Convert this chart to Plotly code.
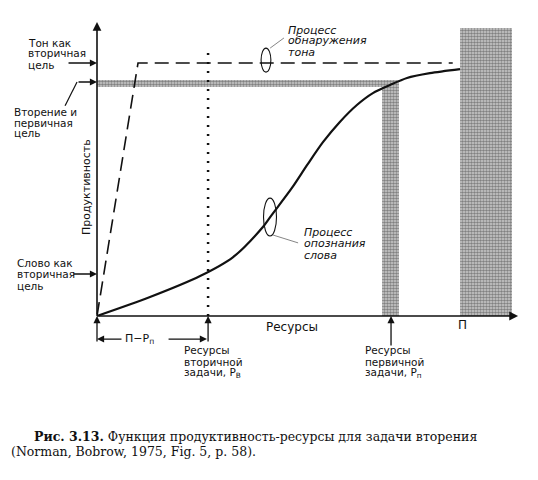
import plotly.graph_objects as go

# ---- data (resource units: 0 = none, 1 = П total; performance: 1 = tone target) ----
curve_x = [0.0, 0.146, 0.284, 0.375, 0.457, 0.477, 0.537, 0.579, 0.623, 0.669, 0.716, 0.760, 0.807, 0.854, 0.917, 1.0]
curve_y = [0.0, 0.075, 0.158, 0.233, 0.352, 0.391, 0.506, 0.597, 0.688, 0.767, 0.834, 0.881, 0.913, 0.941, 0.960, 0.976]

tone_x = [0.0, 0.113, 0.98]
tone_y = [0.0, 1.0, 1.0]

secondary_resources = 0.306   # Pв
primary_resources = 0.81      # Pп
total_resources = 1.0         # П
dotted_top = 1.063

tone_target = 1.0
dual_target = 0.925
word_target = 0.166

bar_x0 = [0.785, 1.0]
bar_x1 = [0.831, 1.143]
bar_top = [0.933, 1.138]
band_y0, band_y1, band_x1 = 0.905, 0.933, 0.831

y_axis_top = 1.162
x_axis_end = 1.16

left_labels = [
    (["Тон как", "вторичная", "цель"], -0.1956, [1.079, 1.040, 0.992]),
    (["Вторение и", "первичная", "цель"], -0.234, [0.806, 0.763, 0.723]),
    (["Слово как", "вторичная", "цель"], -0.226, [0.2095, 0.166, 0.1186]),
]
proc_labels = [
    (["Процесс", "обнаружения", "тона"], 0.5207, [1.1304, 1.087, 1.0435]),
    (["Процесс", "опознания", "слова"], 0.5647, [0.332, 0.2885, 0.241]),
]
bottom_labels = [
    (["Ресурсы", "вторичной", "задачи, P<sub>В</sub>"], 0.234, [-0.134, -0.181, -0.226]),
    (["Ресурсы", "первичной", "задачи, P<sub>п</sub>"], 0.733, [-0.134, -0.181, -0.226]),
]
caption1 = "<b>Рис. 3.13.</b> Функция продуктивность-ресурсы для задачи вторения"
caption2 = "(Norman, Bobrow, 1975, Fig. 5, p. 58)."

SANS = "DejaVu Sans"
INK = "#111111"

fig = go.Figure()

pattern = dict(shape=".", size=3, solidity=0.6, fgcolor="#333333", bgcolor="#cfcfcf")

# vertical grey bars
fig.add_trace(go.Bar(
    x=[(a + b) / 2 for a, b in zip(bar_x0, bar_x1)],
    y=bar_top, base=[0, 0],
    width=[b - a for a, b in zip(bar_x0, bar_x1)],
    marker=dict(color="#999999", pattern=pattern, line=dict(width=0)),
    showlegend=False, hoverinfo="skip"))
# horizontal grey band
fig.add_trace(go.Bar(
    y=[(band_y0 + band_y1) / 2], x=[band_x1], base=[0],
    width=[band_y1 - band_y0], orientation="h",
    marker=dict(color="#999999", pattern=pattern, line=dict(width=0)),
    showlegend=False, hoverinfo="skip"))

# dotted line at secondary resources
fig.add_trace(go.Scatter(x=[secondary_resources, secondary_resources], y=[0, dotted_top],
                         mode="lines", line=dict(color=INK, width=2.5, dash="2px,7px"),
                         showlegend=False, hoverinfo="skip"))
# tone detection process (dashed)
fig.add_trace(go.Scatter(x=tone_x, y=tone_y, mode="lines",
                         line=dict(color=INK, width=1.6, dash="14px,7px"),
                         showlegend=False, hoverinfo="skip"))
# word recognition process (curve)
fig.add_trace(go.Scatter(x=curve_x, y=curve_y, mode="lines",
                         line=dict(color=INK, width=2.2, shape="spline", smoothing=0.8),
                         showlegend=False, hoverinfo="skip"))

# pointer line for "Вторение и первичная цель"
fig.add_trace(go.Scatter(x=[-0.088, -0.055], y=[0.831, dual_target], mode="lines",
                         line=dict(color=INK, width=1.2), showlegend=False, hoverinfo="skip"))
# leader lines to process labels
fig.add_trace(go.Scatter(x=[0.477, 0.515], y=[1.059, 1.099], mode="lines",
                         line=dict(color="#777777", width=0.9), showlegend=False, hoverinfo="skip"))
fig.add_trace(go.Scatter(x=[0.485, 0.554], y=[0.320, 0.289], mode="lines",
                         line=dict(color="#777777", width=0.9), showlegend=False, hoverinfo="skip"))

# ellipses
fig.add_shape(type="circle", xref="x", yref="y", x0=0.452, x1=0.479, y0=0.964, y1=1.059,
              line=dict(color=INK, width=1.1))
fig.add_shape(type="circle", xref="x", yref="y", x0=0.4587, x1=0.4945, y0=0.316, y1=0.466,
              line=dict(color=INK, width=1.1))

ann = []
def arrow(hx, hy, tx, ty, w=1.3):
    ann.append(dict(x=hx, y=hy, ax=tx, ay=ty, xref="x", yref="y", axref="x", ayref="y",
                    text="", showarrow=True, arrowhead=2, arrowsize=1.1, arrowwidth=w,
                    arrowcolor=INK, standoff=0, startstandoff=0))

# axes
arrow(0, y_axis_top, 0, 0, 1.6)
arrow(x_axis_end, 0, 0, 0, 1.6)
# target arrows on y axis
arrow(0, tone_target, -0.0826, tone_target)
arrow(0, dual_target, -0.055, dual_target)
arrow(0, word_target, -0.069, word_target)
# resource arrows below x axis
arrow(0, 0, 0, -0.107)
arrow(secondary_resources, 0, secondary_resources, -0.107)
arrow(primary_resources, 0, primary_resources, -0.1225)
# П−Pп bracket
arrow(0, -0.091, 0.0716, -0.091)
arrow(secondary_resources - 0.003, -0.091, 0.193, -0.091)

def txt(s, x, y, size=10.5, xanchor="left", italic=False, family=SANS, **kw):
    ann.append(dict(x=x, y=y, xref="x", yref="y", text=s, showarrow=False,
                    xanchor=xanchor, yanchor="middle",
                    font=dict(family=family, size=size, color=INK,
                              style="italic" if italic else "normal"), **kw))

for lines, x, ys in left_labels:
    for s, y in zip(lines, ys):
        txt(s, x, y)
for lines, x, ys in proc_labels:
    for s, y in zip(lines, ys):
        txt(s, x, y, size=11, italic=True)
for lines, x, ys in bottom_labels:
    for s, y in zip(lines, ys):
        txt(s, x, y)

txt("П−P<sub>п</sub>", 0.118, -0.091, size=11, xanchor="center")
txt("Ресурсы", 0.537, -0.043, size=12, xanchor="center")
txt("П", total_resources + 0.006, -0.036, size=12, xanchor="center")
txt("Продуктивность", -0.0275, 0.51, size=11, xanchor="center", textangle=-90)
txt(caption1, -0.179, -0.478, size=12.5, family="DejaVu Serif")
txt(caption2, -0.2424, -0.5375, size=12.5, family="DejaVu Serif")

# page body has an 8px margin: figure drawn at (8, 8) in the 538x480 window
fig.update_layout(
    width=530, height=472, margin=dict(l=0, r=0, t=0, b=0),
    paper_bgcolor="white", plot_bgcolor="white",
    barmode="overlay", bargap=0,
    xaxis=dict(range=[-0.2452, 1.2149], visible=False, fixedrange=True),
    yaxis=dict(range=[-0.6482, 1.2174], visible=False, fixedrange=True),
    annotations=ann, showlegend=False,
)

fig.write_html("out.html")
